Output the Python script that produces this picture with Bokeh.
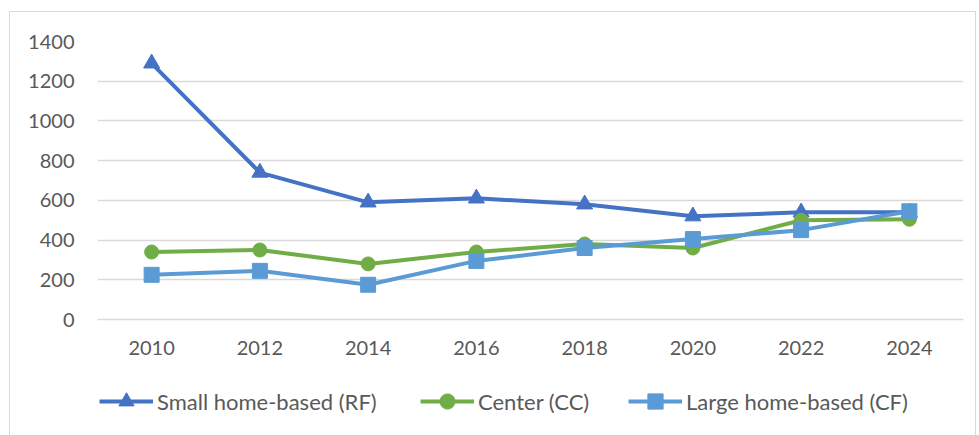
from bokeh.plotting import figure
from bokeh.models import Legend, LegendItem, Range1d, FixedTicker, InlineStyleSheet
from bokeh.layouts import column
from bokeh.embed import file_html
from bokeh.resources import INLINE

years = ["2010", "2012", "2014", "2016", "2018", "2020", "2022", "2024"]
small_home_rf = [1290, 740, 590, 610, 580, 520, 540, 540]
center_cc = [340, 350, 280, 340, 380, 360, 500, 505]
large_home_cf = [225, 245, 175, 295, 360, 405, 450, 545]
y_ticks = [0, 200, 400, 600, 800, 1000, 1200, 1400]
series_names = ["Small home-based (RF)", "Center (CC)", "Large home-based (CF)"]

FONT = "Lato"
TXT = "#595959"
GRID = "#d9d9d9"
colors = ["#4472C4", "#70AD47", "#5B9BD5"]
markers = ["triangle", "circle", "square"]
sizes = [16, 14, 15]
all_series = [small_home_rf, center_cc, large_home_cf]

p = figure(x_range=years, y_range=Range1d(0, 1400), width=975, height=370,
           output_backend="svg", toolbar_location=None,
           min_border_left=97, min_border_right=12,
           min_border_top=41, min_border_bottom=51)
p.outline_line_color = None

for vals, col, mk, sz in zip(all_series, colors, markers, sizes):
    p.line(years, vals, line_color=col, line_width=4)
    p.scatter(years, vals, marker=mk, size=sz, fill_color=col, line_color=col)

p.yaxis.ticker = FixedTicker(ticks=y_ticks)
p.yaxis.axis_line_color = None
p.yaxis.major_tick_line_color = None
p.yaxis.major_tick_out = 0
p.yaxis.minor_tick_line_color = None
p.yaxis.major_label_text_font = FONT
p.yaxis.major_label_text_font_size = "20px"
p.yaxis.major_label_text_color = TXT
p.yaxis.major_label_standoff = 23

p.xaxis.axis_line_color = GRID
p.xaxis.axis_line_width = 1.5
p.xaxis.major_tick_line_color = None
p.xaxis.major_tick_out = 0
p.xaxis.minor_tick_line_color = None
p.xaxis.major_label_text_font = FONT
p.xaxis.major_label_text_font_size = "20px"
p.xaxis.major_label_text_color = TXT
p.xaxis.major_label_standoff = 21

p.xgrid.grid_line_color = None
p.ygrid.grid_line_color = GRID
p.ygrid.grid_line_width = 1.5

# legend strip (its plotted series sit outside its visible y-range; only the legend shows)
lg = figure(width=975, height=65, output_backend="svg", toolbar_location=None,
            x_range=years, y_range=Range1d(5000, 6000),
            x_axis_location=None, y_axis_location=None,
            min_border_left=97, min_border_right=12,
            min_border_top=0, min_border_bottom=0)
lg.outline_line_color = None
lg.xgrid.grid_line_color = None
lg.ygrid.grid_line_color = None
legend_x = [2, 323, 531]
for name, vals, col, mk, sz, lx in zip(series_names, all_series, colors, markers, sizes, legend_x):
    l = lg.line(years, vals, line_color=col, line_width=4)
    s = lg.scatter(years, vals, marker=mk, size=sz, fill_color=col, line_color=col)
    leg = Legend(items=[LegendItem(label=name, renderers=[l, s])],
                 location=(lx, 15), label_text_font=FONT,
                 label_text_font_size="22px", label_text_color=TXT,
                 glyph_width=54, glyph_height=38, label_standoff=4,
                 border_line_color=None, background_fill_alpha=0,
                 padding=0, margin=0)
    lg.add_layout(leg, "center")

layout = column(p, lg, spacing=0)
layout.stylesheets = [InlineStyleSheet(css=""":host::after { content: ''; position: absolute;
  left: 9px; top: 11px; width: 965px; height: 430px; border: 1.5px solid #d9d9d9;
  pointer-events: none; }""")]

open("out.html", "w").write(file_html(layout, INLINE))
